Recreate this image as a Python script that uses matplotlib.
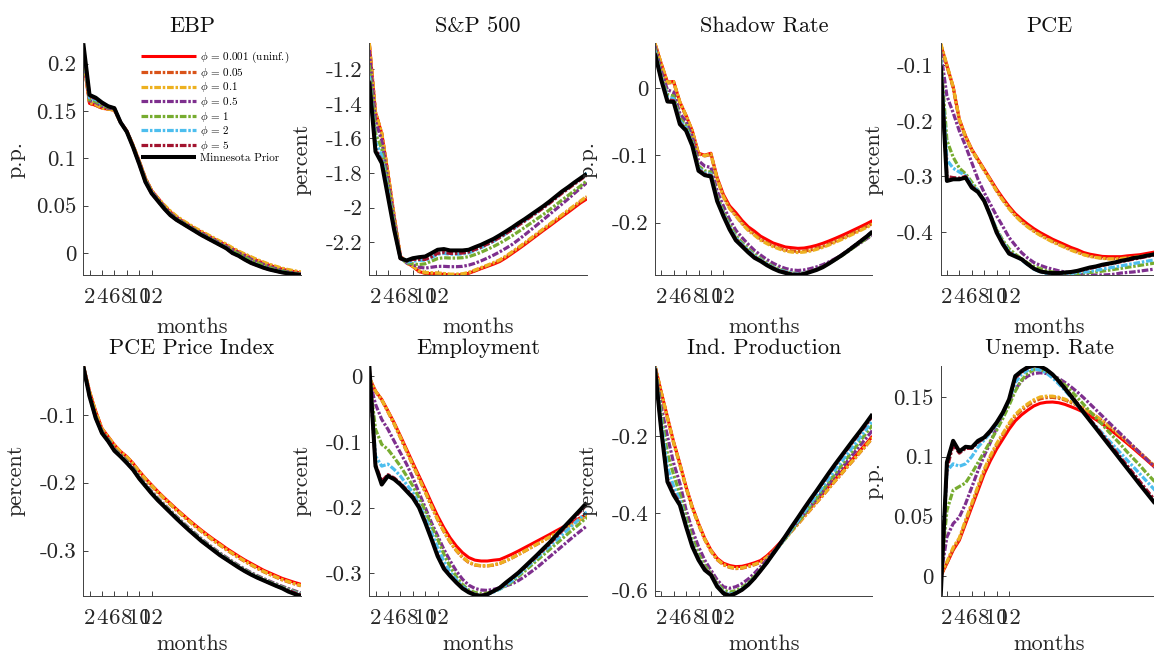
import matplotlib
matplotlib.use('Agg')
import matplotlib.pyplot as plt
import numpy as np

# ---------------- data ----------------
months = np.arange(1, 37)
xtick_vals = [2, 4, 6, 8, 10, 12]

titles = ['EBP', 'S&P 500', 'Shadow Rate', 'PCE',
          'PCE Price Index', 'Employment', 'Ind. Production', 'Unemp. Rate']
ylabels = ['p.p.', 'percent', 'p.p.', 'percent',
           'percent', 'percent', 'percent', 'p.p.']

series_labels = [r'$\phi$ = 0.001 (uninf.)', r'$\phi$ = 0.05', r'$\phi$ = 0.1',
                 r'$\phi$ = 0.5', r'$\phi$ = 1', r'$\phi$ = 2', r'$\phi$ = 5',
                 'Minnesota Prior']

yticks = [[0, 0.05, 0.1, 0.15, 0.2],
          [-2.2, -2.0, -1.8, -1.6, -1.4, -1.2],
          [-0.2, -0.1, 0.0],
          [-0.4, -0.3, -0.2, -0.1],
          [-0.3, -0.2, -0.1],
          [-0.3, -0.2, -0.1, 0.0],
          [-0.6, -0.4, -0.2],
          [0, 0.05, 0.1, 0.15]]
ytick_labels = [['0', '0.05', '0.1', '0.15', '0.2'],
                ['-2.2', '-2', '-1.8', '-1.6', '-1.4', '-1.2'],
                ['-0.2', '-0.1', '0'],
                ['-0.4', '-0.3', '-0.2', '-0.1'],
                ['-0.3', '-0.2', '-0.1'],
                ['-0.3', '-0.2', '-0.1', '0'],
                ['-0.6', '-0.4', '-0.2'],
                ['0', '0.05', '0.1', '0.15']]

# EBP
ebp_p001 = [0.205,0.158,0.156,0.153,0.152,0.151,0.138,0.129,0.114,0.097,0.079,0.066,0.058,0.050,0.0435,0.038,0.0335,0.0295,0.0255,0.022,0.0185,0.015,0.0115,0.0085,0.0045,0.001,-0.002,-0.005,-0.008,-0.0105,-0.013,-0.015,-0.017,-0.0185,-0.0198,-0.021]
ebp_p005 = [0.206,0.158,0.156,0.153,0.152,0.151,0.138,0.129,0.114,0.097,0.079,0.066,0.058,0.0505,0.044,0.0385,0.034,0.030,0.026,0.0225,0.019,0.0155,0.012,0.009,0.005,0.0015,-0.0015,-0.0045,-0.0075,-0.010,-0.0125,-0.0145,-0.0165,-0.018,-0.0193,-0.0205]
ebp_p01 = [0.207,0.159,0.157,0.153,0.152,0.151,0.138,0.129,0.114,0.097,0.079,0.066,0.058,0.051,0.0445,0.039,0.0345,0.0305,0.0265,0.023,0.0195,0.016,0.0125,0.0095,0.0055,0.002,-0.001,-0.004,-0.007,-0.0095,-0.012,-0.014,-0.016,-0.0175,-0.0188,-0.020]
ebp_p05 = [0.210,0.161,0.159,0.155,0.153,0.152,0.138,0.129,0.113,0.096,0.078,0.065,0.057,0.049,0.042,0.037,0.0325,0.0285,0.0245,0.021,0.0175,0.014,0.0105,0.007,0.0035,0.0,-0.003,-0.0065,-0.0095,-0.012,-0.0145,-0.0165,-0.0185,-0.020,-0.021,-0.022]
ebp_p1 = [0.212,0.162,0.160,0.156,0.154,0.152,0.138,0.128,0.113,0.095,0.077,0.064,0.056,0.048,0.041,0.036,0.032,0.028,0.024,0.020,0.0165,0.013,0.0095,0.006,0.002,-0.001,-0.0045,-0.008,-0.0105,-0.013,-0.0155,-0.0175,-0.019,-0.0205,-0.0215,-0.0225]
ebp_p2 = [0.215,0.164,0.162,0.157,0.155,0.153,0.138,0.128,0.112,0.095,0.076,0.064,0.0555,0.0475,0.0405,0.0355,0.0315,0.0275,0.0235,0.0195,0.016,0.0125,0.009,0.0055,0.0005,-0.0025,-0.0065,-0.010,-0.0125,-0.015,-0.017,-0.0185,-0.020,-0.021,-0.022,-0.0228]
ebp_p5 = [0.219,0.166,0.163,0.158,0.155,0.153,0.138,0.128,0.112,0.094,0.075,0.063,0.055,0.047,0.040,0.035,0.031,0.027,0.023,0.019,0.0155,0.012,0.0085,0.005,0.0,-0.003,-0.007,-0.0105,-0.013,-0.0155,-0.0175,-0.019,-0.0205,-0.0215,-0.0223,-0.023]
ebp_mn = [0.2215,0.167,0.164,0.159,0.155,0.153,0.138,0.128,0.112,0.094,0.075,0.063,0.055,0.047,0.040,0.035,0.031,0.027,0.023,0.019,0.0155,0.012,0.0085,0.005,0.0,-0.003,-0.007,-0.0105,-0.013,-0.0155,-0.0175,-0.019,-0.0205,-0.0215,-0.0223,-0.0232]

# S&P 500
sp_p001 = [-1.05,-1.45,-1.57,-1.80,-2.05,-2.28,-2.32,-2.34,-2.37,-2.38,-2.382,-2.383,-2.386,-2.39,-2.39,-2.388,-2.38,-2.367,-2.353,-2.34,-2.327,-2.312,-2.29,-2.265,-2.24,-2.214,-2.187,-2.16,-2.133,-2.107,-2.08,-2.053,-2.027,-2.0,-1.973,-1.95]
sp_p005 = [-1.05,-1.45,-1.57,-1.80,-2.05,-2.28,-2.32,-2.34,-2.37,-2.38,-2.38,-2.381,-2.384,-2.388,-2.388,-2.386,-2.378,-2.364,-2.35,-2.336,-2.322,-2.306,-2.284,-2.259,-2.234,-2.208,-2.181,-2.154,-2.127,-2.1,-2.073,-2.046,-2.019,-1.992,-1.965,-1.94]
sp_p01 = [-1.05,-1.45,-1.57,-1.80,-2.05,-2.28,-2.32,-2.338,-2.365,-2.375,-2.377,-2.378,-2.381,-2.385,-2.385,-2.383,-2.375,-2.361,-2.347,-2.333,-2.318,-2.302,-2.28,-2.255,-2.23,-2.204,-2.177,-2.15,-2.123,-2.096,-2.069,-2.042,-2.015,-1.988,-1.961,-1.935]
sp_p05 = [-1.09,-1.50,-1.61,-1.84,-2.07,-2.285,-2.32,-2.33,-2.345,-2.35,-2.345,-2.34,-2.34,-2.342,-2.342,-2.34,-2.333,-2.322,-2.308,-2.292,-2.275,-2.256,-2.235,-2.213,-2.186,-2.158,-2.129,-2.1,-2.07,-2.04,-2.01,-1.98,-1.95,-1.918,-1.887,-1.856]
sp_p1 = [-1.175,-1.57,-1.66,-1.87,-2.09,-2.29,-2.32,-2.325,-2.33,-2.325,-2.31,-2.295,-2.29,-2.292,-2.292,-2.29,-2.284,-2.272,-2.258,-2.242,-2.225,-2.206,-2.185,-2.163,-2.139,-2.115,-2.09,-2.065,-2.04,-2.013,-1.985,-1.957,-1.93,-1.902,-1.875,-1.845]
sp_p2 = [-1.24,-1.62,-1.70,-1.90,-2.11,-2.295,-2.315,-2.31,-2.305,-2.305,-2.29,-2.27,-2.265,-2.27,-2.27,-2.268,-2.262,-2.248,-2.232,-2.214,-2.195,-2.174,-2.151,-2.127,-2.101,-2.076,-2.050,-2.024,-1.998,-1.970,-1.941,-1.912,-1.885,-1.857,-1.83,-1.80]
sp_p5 = [-1.265,-1.66,-1.73,-1.92,-2.12,-2.295,-2.31,-2.30,-2.30,-2.30,-2.285,-2.265,-2.26,-2.265,-2.265,-2.263,-2.257,-2.243,-2.228,-2.211,-2.193,-2.172,-2.15,-2.127,-2.102,-2.078,-2.053,-2.028,-2.002,-1.975,-1.946,-1.917,-1.891,-1.864,-1.838,-1.812]
sp_mn = [-1.271,-1.676,-1.743,-1.936,-2.129,-2.293,-2.306,-2.293,-2.287,-2.283,-2.264,-2.244,-2.240,-2.248,-2.248,-2.248,-2.244,-2.229,-2.215,-2.198,-2.181,-2.160,-2.138,-2.115,-2.090,-2.067,-2.042,-2.017,-1.992,-1.965,-1.936,-1.907,-1.882,-1.855,-1.830,-1.805]

# Shadow Rate
sr_p001 = [0.0655,0.036,0.0084,0.0094,-0.021,-0.041,-0.0635,-0.097,-0.0998,-0.097,-0.133,-0.158,-0.175,-0.185,-0.1965,-0.206,-0.2125,-0.22,-0.225,-0.23,-0.233,-0.236,-0.237,-0.238,-0.2375,-0.2358,-0.2335,-0.2305,-0.227,-0.2232,-0.2192,-0.215,-0.2106,-0.2062,-0.2017,-0.197]
sr_p005 = [0.065,0.035,0.007,0.008,-0.022,-0.042,-0.065,-0.098,-0.101,-0.099,-0.135,-0.161,-0.178,-0.189,-0.2005,-0.21,-0.217,-0.2245,-0.2295,-0.234,-0.2375,-0.2405,-0.2418,-0.2425,-0.242,-0.2405,-0.238,-0.235,-0.2315,-0.2275,-0.2235,-0.2192,-0.2148,-0.2103,-0.2058,-0.201]
sr_p01 = [0.066,0.036,0.008,0.009,-0.021,-0.041,-0.064,-0.098,-0.1005,-0.098,-0.135,-0.161,-0.179,-0.19,-0.2015,-0.2115,-0.2185,-0.226,-0.231,-0.2355,-0.239,-0.242,-0.2435,-0.2442,-0.2435,-0.242,-0.2395,-0.2365,-0.233,-0.229,-0.225,-0.2207,-0.2163,-0.2118,-0.2072,-0.2025]
sr_p05 = [0.062,0.025,-0.003,-0.0065,-0.038,-0.05,-0.072,-0.108,-0.116,-0.118,-0.153,-0.175,-0.195,-0.211,-0.222,-0.232,-0.241,-0.248,-0.2545,-0.26,-0.2645,-0.2678,-0.27,-0.2708,-0.27,-0.268,-0.2655,-0.2622,-0.258,-0.2532,-0.248,-0.2422,-0.2362,-0.2302,-0.2242,-0.218]
sr_p1 = [0.058,0.018,-0.01,-0.012,-0.045,-0.056,-0.079,-0.116,-0.123,-0.125,-0.161,-0.183,-0.203,-0.219,-0.2295,-0.2385,-0.247,-0.2535,-0.2595,-0.2648,-0.269,-0.2718,-0.2745,-0.2755,-0.2745,-0.272,-0.269,-0.2652,-0.2602,-0.255,-0.2492,-0.243,-0.2365,-0.23,-0.2235,-0.217]
sr_p2 = [0.055,0.016,-0.014,-0.016,-0.049,-0.059,-0.082,-0.119,-0.126,-0.128,-0.164,-0.186,-0.206,-0.222,-0.232,-0.241,-0.249,-0.255,-0.261,-0.266,-0.27,-0.2725,-0.275,-0.2758,-0.2745,-0.2718,-0.2688,-0.2648,-0.2595,-0.254,-0.248,-0.2415,-0.2348,-0.2282,-0.2215,-0.2148]
sr_p5 = [0.052,0.013,-0.018,-0.019,-0.052,-0.062,-0.084,-0.121,-0.128,-0.13,-0.166,-0.188,-0.208,-0.224,-0.2335,-0.2425,-0.2505,-0.256,-0.262,-0.267,-0.271,-0.2735,-0.276,-0.2765,-0.275,-0.272,-0.269,-0.265,-0.2595,-0.2538,-0.2478,-0.2413,-0.2345,-0.2275,-0.2205,-0.2135]
sr_mn = [0.0506,0.012,-0.0203,-0.021,-0.054,-0.0635,-0.086,-0.123,-0.1295,-0.1315,-0.168,-0.190,-0.210,-0.226,-0.235,-0.244,-0.252,-0.257,-0.263,-0.268,-0.272,-0.2745,-0.277,-0.2775,-0.276,-0.273,-0.270,-0.266,-0.2605,-0.2546,-0.2486,-0.242,-0.235,-0.228,-0.221,-0.213]

# PCE
pce_p001 = [-0.062,-0.100,-0.138,-0.197,-0.227,-0.251,-0.269,-0.287,-0.305,-0.323,-0.339,-0.354,-0.367,-0.377,-0.386,-0.394,-0.401,-0.407,-0.413,-0.418,-0.423,-0.428,-0.432,-0.437,-0.440,-0.442,-0.444,-0.4445,-0.4445,-0.4445,-0.443,-0.442,-0.441,-0.439,-0.437,-0.435]
pce_p005 = [-0.062,-0.101,-0.140,-0.199,-0.229,-0.253,-0.271,-0.289,-0.307,-0.326,-0.342,-0.357,-0.370,-0.381,-0.390,-0.398,-0.405,-0.411,-0.417,-0.422,-0.427,-0.432,-0.436,-0.4405,-0.4435,-0.4455,-0.447,-0.448,-0.448,-0.4475,-0.4465,-0.4455,-0.444,-0.4425,-0.4405,-0.4385]
pce_p01 = [-0.060,-0.099,-0.138,-0.197,-0.228,-0.252,-0.270,-0.289,-0.307,-0.326,-0.343,-0.358,-0.371,-0.382,-0.391,-0.399,-0.406,-0.412,-0.418,-0.423,-0.428,-0.433,-0.437,-0.441,-0.444,-0.446,-0.4475,-0.4485,-0.4485,-0.448,-0.447,-0.446,-0.4445,-0.443,-0.441,-0.439]
pce_p05 = [-0.075,-0.155,-0.185,-0.218,-0.245,-0.275,-0.305,-0.329,-0.35,-0.371,-0.39,-0.41,-0.424,-0.437,-0.447,-0.455,-0.46,-0.464,-0.467,-0.47,-0.472,-0.474,-0.4755,-0.477,-0.4775,-0.4775,-0.4775,-0.477,-0.476,-0.474,-0.473,-0.472,-0.4705,-0.469,-0.4675,-0.466]
pce_p1 = [-0.085,-0.235,-0.265,-0.285,-0.295,-0.31,-0.325,-0.345,-0.37,-0.395,-0.415,-0.43,-0.44,-0.448,-0.456,-0.462,-0.466,-0.47,-0.472,-0.474,-0.4745,-0.475,-0.4748,-0.474,-0.473,-0.472,-0.4705,-0.469,-0.4672,-0.4655,-0.4638,-0.462,-0.4602,-0.4585,-0.4568,-0.455]
pce_p2 = [-0.09,-0.27,-0.285,-0.292,-0.298,-0.315,-0.326,-0.342,-0.368,-0.397,-0.418,-0.435,-0.443,-0.45,-0.459,-0.467,-0.472,-0.475,-0.476,-0.476,-0.4755,-0.4745,-0.473,-0.4725,-0.471,-0.469,-0.467,-0.465,-0.463,-0.461,-0.459,-0.457,-0.455,-0.453,-0.451,-0.449]
pce_p5 = [-0.098,-0.300,-0.302,-0.303,-0.300,-0.318,-0.327,-0.343,-0.37,-0.399,-0.42,-0.437,-0.443,-0.449,-0.458,-0.466,-0.471,-0.4735,-0.4745,-0.4745,-0.4735,-0.4725,-0.4705,-0.468,-0.4655,-0.463,-0.4605,-0.458,-0.4558,-0.4535,-0.4512,-0.449,-0.4468,-0.4446,-0.4424,-0.44]
pce_mn = [-0.100,-0.308,-0.305,-0.305,-0.302,-0.320,-0.328,-0.344,-0.371,-0.401,-0.422,-0.439,-0.444,-0.449,-0.458,-0.466,-0.471,-0.473,-0.474,-0.474,-0.473,-0.472,-0.470,-0.467,-0.464,-0.462,-0.459,-0.457,-0.455,-0.452,-0.450,-0.447,-0.4455,-0.443,-0.441,-0.4385]

# PCE Price Index
pcep_p001 = [-0.0276,-0.0655,-0.095,-0.12,-0.132,-0.1443,-0.154,-0.1616,-0.1714,-0.183,-0.1936,-0.2034,-0.213,-0.222,-0.2305,-0.239,-0.247,-0.255,-0.2626,-0.27,-0.277,-0.2837,-0.290,-0.2966,-0.3025,-0.3084,-0.314,-0.319,-0.324,-0.329,-0.333,-0.337,-0.341,-0.344,-0.347,-0.3497]
pcep_p005 = [-0.0276,-0.066,-0.096,-0.121,-0.133,-0.145,-0.155,-0.1625,-0.1725,-0.1842,-0.195,-0.2048,-0.2145,-0.2236,-0.2322,-0.2407,-0.2488,-0.2568,-0.2645,-0.272,-0.279,-0.2858,-0.2922,-0.2987,-0.3047,-0.3106,-0.3162,-0.3213,-0.3263,-0.3312,-0.3353,-0.3393,-0.3432,-0.3463,-0.3493,-0.352]
pcep_p01 = [-0.0274,-0.0655,-0.0955,-0.1205,-0.1325,-0.1447,-0.1545,-0.162,-0.172,-0.1837,-0.1945,-0.2043,-0.214,-0.2231,-0.2317,-0.2402,-0.2483,-0.2563,-0.264,-0.2715,-0.2785,-0.2853,-0.2917,-0.2982,-0.3042,-0.3101,-0.3157,-0.3208,-0.3258,-0.3307,-0.3348,-0.3388,-0.3427,-0.3458,-0.3488,-0.3515]
pcep_p05 = [-0.028,-0.071,-0.102,-0.124,-0.136,-0.150,-0.159,-0.168,-0.178,-0.191,-0.202,-0.213,-0.223,-0.232,-0.241,-0.250,-0.2585,-0.2668,-0.2748,-0.2828,-0.29,-0.297,-0.3038,-0.31,-0.316,-0.322,-0.3275,-0.3325,-0.337,-0.3412,-0.3452,-0.349,-0.3527,-0.356,-0.3593,-0.3625]
pcep_p1 = [-0.0282,-0.0715,-0.103,-0.125,-0.137,-0.151,-0.16,-0.169,-0.179,-0.192,-0.203,-0.214,-0.224,-0.233,-0.242,-0.251,-0.2595,-0.2678,-0.2758,-0.2838,-0.291,-0.298,-0.3048,-0.311,-0.317,-0.323,-0.3285,-0.3335,-0.338,-0.3422,-0.3462,-0.35,-0.3537,-0.357,-0.3603,-0.3635]
pcep_p2 = [-0.0284,-0.072,-0.104,-0.126,-0.138,-0.152,-0.161,-0.170,-0.180,-0.193,-0.204,-0.215,-0.225,-0.234,-0.243,-0.252,-0.2605,-0.2688,-0.2768,-0.2848,-0.292,-0.299,-0.3058,-0.312,-0.318,-0.324,-0.3295,-0.3345,-0.339,-0.3432,-0.3472,-0.351,-0.3547,-0.358,-0.3613,-0.3645]
pcep_p5 = [-0.0286,-0.0727,-0.1048,-0.1268,-0.1388,-0.1528,-0.1614,-0.1708,-0.1808,-0.1938,-0.2048,-0.2158,-0.2258,-0.2348,-0.2438,-0.2528,-0.2614,-0.2698,-0.2778,-0.2858,-0.2928,-0.2998,-0.3068,-0.3128,-0.3188,-0.3248,-0.3302,-0.3352,-0.3398,-0.3438,-0.3478,-0.3518,-0.3555,-0.3588,-0.3622,-0.3655]
pcep_mn = [-0.0286,-0.0729,-0.105,-0.127,-0.139,-0.153,-0.1616,-0.171,-0.181,-0.194,-0.205,-0.216,-0.226,-0.235,-0.244,-0.253,-0.2616,-0.270,-0.278,-0.286,-0.293,-0.300,-0.307,-0.313,-0.319,-0.325,-0.3305,-0.3355,-0.340,-0.344,-0.348,-0.352,-0.3557,-0.3605,-0.364,-0.367]

# Employment
emp_p001 = [-0.003,-0.0228,-0.0355,-0.053,-0.071,-0.091,-0.1115,-0.132,-0.152,-0.172,-0.193,-0.213,-0.2306,-0.246,-0.2585,-0.2686,-0.276,-0.280,-0.2813,-0.2813,-0.280,-0.279,-0.275,-0.2707,-0.266,-0.261,-0.256,-0.251,-0.246,-0.241,-0.2357,-0.2306,-0.2255,-0.2205,-0.2154,-0.2103]
emp_p005 = [-0.003,-0.0235,-0.0365,-0.0545,-0.073,-0.0935,-0.1145,-0.1355,-0.156,-0.1765,-0.198,-0.2185,-0.2365,-0.2525,-0.2655,-0.276,-0.2835,-0.2875,-0.2888,-0.2888,-0.2875,-0.285,-0.281,-0.2765,-0.2715,-0.2663,-0.261,-0.2557,-0.2503,-0.245,-0.2396,-0.2342,-0.2288,-0.2235,-0.2181,-0.2128]
emp_p01 = [-0.002,-0.023,-0.036,-0.054,-0.0725,-0.093,-0.114,-0.135,-0.1555,-0.176,-0.1975,-0.218,-0.236,-0.252,-0.265,-0.2755,-0.283,-0.287,-0.2885,-0.2885,-0.2872,-0.2848,-0.2808,-0.2763,-0.2713,-0.2661,-0.2608,-0.2555,-0.2501,-0.2448,-0.2394,-0.234,-0.2286,-0.2233,-0.2179,-0.2126]
emp_p05 = [-0.005,-0.043,-0.066,-0.081,-0.099,-0.1166,-0.134,-0.1546,-0.1774,-0.200,-0.223,-0.243,-0.2635,-0.281,-0.2965,-0.309,-0.318,-0.323,-0.3254,-0.326,-0.3244,-0.322,-0.319,-0.316,-0.311,-0.305,-0.298,-0.291,-0.283,-0.275,-0.267,-0.259,-0.251,-0.243,-0.2355,-0.228]
emp_p1 = [-0.002,-0.081,-0.104,-0.1115,-0.124,-0.137,-0.152,-0.167,-0.185,-0.205,-0.228,-0.248,-0.271,-0.29,-0.305,-0.317,-0.3254,-0.329,-0.331,-0.33,-0.3275,-0.324,-0.319,-0.313,-0.3048,-0.2967,-0.2885,-0.2803,-0.2722,-0.264,-0.2558,-0.2477,-0.2395,-0.2313,-0.2232,-0.215]
emp_p2 = [0.0,-0.1216,-0.137,-0.134,-0.142,-0.152,-0.165,-0.177,-0.195,-0.2154,-0.238,-0.261,-0.282,-0.298,-0.31,-0.32,-0.327,-0.332,-0.333,-0.332,-0.3285,-0.324,-0.318,-0.311,-0.3023,-0.2936,-0.285,-0.2763,-0.2676,-0.259,-0.2503,-0.2416,-0.2329,-0.2242,-0.2155,-0.2068]
emp_p5 = [0.012,-0.135,-0.16,-0.15,-0.155,-0.163,-0.173,-0.183,-0.198,-0.221,-0.246,-0.272,-0.291,-0.303,-0.313,-0.322,-0.328,-0.332,-0.3335,-0.3315,-0.327,-0.3215,-0.3145,-0.307,-0.2995,-0.291,-0.2825,-0.2735,-0.2645,-0.2555,-0.2455,-0.2355,-0.2255,-0.2155,-0.2055,-0.1955]
emp_mn = [0.016,-0.137,-0.165,-0.152,-0.157,-0.165,-0.175,-0.185,-0.200,-0.223,-0.248,-0.274,-0.293,-0.304,-0.314,-0.323,-0.329,-0.333,-0.3345,-0.332,-0.327,-0.322,-0.314,-0.3066,-0.299,-0.290,-0.281,-0.272,-0.2625,-0.2534,-0.243,-0.233,-0.223,-0.213,-0.203,-0.1926]

# Industrial Production
ip_p001 = [-0.018,-0.0853,-0.15,-0.2147,-0.2707,-0.331,-0.3828,-0.4259,-0.4647,-0.4948,-0.5164,-0.529,-0.535,-0.538,-0.537,-0.533,-0.528,-0.522,-0.51,-0.495,-0.478,-0.46,-0.441,-0.423,-0.404,-0.386,-0.367,-0.349,-0.33,-0.311,-0.293,-0.274,-0.256,-0.237,-0.219,-0.200]
ip_p005 = [-0.018,-0.087,-0.153,-0.218,-0.274,-0.334,-0.386,-0.429,-0.468,-0.498,-0.52,-0.533,-0.54,-0.543,-0.542,-0.538,-0.533,-0.527,-0.515,-0.5,-0.483,-0.465,-0.446,-0.428,-0.409,-0.391,-0.372,-0.354,-0.335,-0.316,-0.298,-0.279,-0.261,-0.242,-0.224,-0.205]
ip_p01 = [-0.017,-0.086,-0.152,-0.217,-0.273,-0.333,-0.385,-0.428,-0.467,-0.497,-0.519,-0.532,-0.539,-0.542,-0.541,-0.537,-0.532,-0.526,-0.514,-0.499,-0.482,-0.464,-0.445,-0.427,-0.408,-0.39,-0.371,-0.353,-0.334,-0.315,-0.297,-0.278,-0.26,-0.241,-0.223,-0.204]
ip_p05 = [-0.02,-0.124,-0.2,-0.27,-0.322,-0.391,-0.443,-0.486,-0.521,-0.547,-0.572,-0.59,-0.594,-0.59,-0.582,-0.57,-0.555,-0.538,-0.52,-0.501,-0.481,-0.461,-0.442,-0.422,-0.402,-0.382,-0.363,-0.343,-0.323,-0.303,-0.284,-0.264,-0.244,-0.224,-0.205,-0.185]
ip_p1 = [-0.021,-0.14,-0.245,-0.30,-0.35,-0.41,-0.465,-0.505,-0.535,-0.555,-0.58,-0.598,-0.604,-0.6,-0.592,-0.58,-0.563,-0.545,-0.525,-0.505,-0.485,-0.465,-0.444,-0.423,-0.402,-0.381,-0.36,-0.339,-0.318,-0.297,-0.276,-0.255,-0.234,-0.213,-0.192,-0.171]
ip_p2 = [-0.022,-0.16,-0.28,-0.33,-0.365,-0.425,-0.478,-0.515,-0.542,-0.557,-0.585,-0.603,-0.61,-0.605,-0.596,-0.583,-0.566,-0.547,-0.527,-0.506,-0.485,-0.463,-0.441,-0.419,-0.397,-0.375,-0.353,-0.331,-0.309,-0.287,-0.266,-0.245,-0.224,-0.203,-0.182,-0.16]
ip_p5 = [-0.024,-0.18,-0.31,-0.347,-0.374,-0.43,-0.482,-0.517,-0.543,-0.557,-0.587,-0.605,-0.6125,-0.6065,-0.5975,-0.5845,-0.5678,-0.5482,-0.5278,-0.5055,-0.4828,-0.4595,-0.4358,-0.4125,-0.389,-0.3658,-0.3435,-0.3205,-0.2975,-0.2752,-0.2538,-0.2325,-0.2112,-0.1905,-0.1695,-0.148]
ip_mn = [-0.025,-0.1845,-0.318,-0.3526,-0.3785,-0.4345,-0.486,-0.5207,-0.5466,-0.5595,-0.5897,-0.607,-0.614,-0.607,-0.598,-0.585,-0.568,-0.548,-0.5276,-0.505,-0.482,-0.4586,-0.4345,-0.411,-0.387,-0.3638,-0.3414,-0.318,-0.2948,-0.2724,-0.2509,-0.2293,-0.2078,-0.187,-0.1655,-0.143]

# Unemployment Rate
ur_p001 = [0.0,0.0106,0.0217,0.03,0.0439,0.0578,0.0717,0.0856,0.0967,0.1064,0.1147,0.123,0.13,0.135,0.139,0.1425,0.1447,0.1456,0.1458,0.1452,0.1438,0.1418,0.1397,0.1372,0.1343,0.131,0.1275,0.1237,0.1197,0.1155,0.1112,0.1068,0.1023,0.0978,0.0932,0.0886]
ur_p005 = [0.0,0.011,0.0225,0.031,0.0455,0.0595,0.074,0.088,0.0995,0.1095,0.118,0.1265,0.1338,0.1388,0.1428,0.1462,0.1485,0.1495,0.1497,0.149,0.1475,0.1453,0.143,0.1403,0.1372,0.1337,0.13,0.126,0.1218,0.1174,0.1129,0.1083,0.1036,0.0989,0.0941,0.0893]
ur_p01 = [0.001,0.012,0.024,0.032,0.047,0.061,0.0755,0.0895,0.101,0.111,0.1195,0.128,0.1353,0.1403,0.1443,0.1477,0.15,0.1507,0.1507,0.1498,0.1482,0.1459,0.1435,0.1407,0.1375,0.134,0.1302,0.1262,0.122,0.1176,0.113,0.1084,0.1037,0.099,0.0942,0.0894]
ur_p05 = [0.0,0.0328,0.0439,0.0494,0.0606,0.0744,0.0883,0.1008,0.112,0.1244,0.1356,0.1467,0.1564,0.1633,0.1675,0.1697,0.1703,0.1697,0.168,0.1655,0.1622,0.1584,0.1541,0.1494,0.1443,0.1392,0.1341,0.129,0.1239,0.1189,0.1138,0.1087,0.1036,0.0986,0.0935,0.0884]
ur_p1 = [0.0,0.055,0.072,0.075,0.078,0.086,0.095,0.104,0.113,0.122,0.132,0.143,0.155,0.164,0.17,0.1728,0.173,0.1715,0.1685,0.1645,0.16,0.155,0.1495,0.1438,0.138,0.1325,0.127,0.121,0.1155,0.11,0.104,0.0985,0.093,0.087,0.0815,0.076]
ur_p2 = [-0.005,0.088,0.094,0.092,0.094,0.1,0.108,0.114,0.12,0.127,0.136,0.147,0.162,0.169,0.1725,0.1735,0.1727,0.170,0.166,0.161,0.1555,0.1495,0.143,0.1365,0.131,0.1253,0.1197,0.114,0.1084,0.1028,0.0972,0.0915,0.0859,0.0802,0.0746,0.069]
ur_p5 = [-0.012,0.09,0.11,0.103,0.107,0.107,0.112,0.1155,0.121,0.128,0.1365,0.1475,0.166,0.171,0.1745,0.176,0.1755,0.1728,0.1688,0.1635,0.1575,0.1512,0.1447,0.138,0.1315,0.125,0.1185,0.112,0.1055,0.099,0.0925,0.086,0.0795,0.073,0.0665,0.06]
ur_mn = [-0.0167,0.0953,0.1133,0.1044,0.1083,0.1078,0.1133,0.1161,0.1217,0.1286,0.137,0.148,0.1675,0.1717,0.175,0.1764,0.1758,0.173,0.1689,0.1633,0.157,0.1505,0.1438,0.137,0.1303,0.1237,0.117,0.1103,0.1037,0.097,0.0903,0.0837,0.077,0.0705,0.064,0.0575]

panels = [
    [ebp_p001, ebp_p005, ebp_p01, ebp_p05, ebp_p1, ebp_p2, ebp_p5, ebp_mn],
    [sp_p001, sp_p005, sp_p01, sp_p05, sp_p1, sp_p2, sp_p5, sp_mn],
    [sr_p001, sr_p005, sr_p01, sr_p05, sr_p1, sr_p2, sr_p5, sr_mn],
    [pce_p001, pce_p005, pce_p01, pce_p05, pce_p1, pce_p2, pce_p5, pce_mn],
    [pcep_p001, pcep_p005, pcep_p01, pcep_p05, pcep_p1, pcep_p2, pcep_p5, pcep_mn],
    [emp_p001, emp_p005, emp_p01, emp_p05, emp_p1, emp_p2, emp_p5, emp_mn],
    [ip_p001, ip_p005, ip_p01, ip_p05, ip_p1, ip_p2, ip_p5, ip_mn],
    [ur_p001, ur_p005, ur_p01, ur_p05, ur_p1, ur_p2, ur_p5, ur_mn],
]

# ---------------- style ----------------
plt.rcParams['font.family'] = ['cmr10', 'DejaVu Serif']
plt.rcParams['mathtext.fontset'] = 'cm'
plt.rcParams['axes.unicode_minus'] = False
plt.rcParams['lines.scale_dashes'] = False

colors = ['#FF0000', '#D95319', '#EDB120', '#7E2F8E', '#77AC30',
          '#4DBEEE', '#A2142F', '#000000']
dashdot = (0, (4.8, 1.3, 1.8, 1.3))
styles = ['-', dashdot, dashdot, dashdot, dashdot, dashdot, dashdot, '-']
widths = [2.2, 2.3, 2.3, 2.3, 2.3, 2.3, 2.3, 2.9]

W, H = 1154, 654
fig = plt.figure(figsize=(W / 100, H / 100), dpi=100)

col_left = [83.3, 369.3, 655.0, 940.7]
ax_w = 217.5
rows = [(43.3, 275.0), (365.5, 596.0)]
xlabel_y = [-0.185, -0.168]
axis_color = '#404040'

axes = []
for i in range(8):
    r, c = divmod(i, 4)
    top, bot = rows[r]
    ax = fig.add_axes([col_left[c] / W, 1 - bot / H, ax_w / W, (bot - top) / H])
    axes.append(ax)
    data = panels[i]
    for k in range(8):
        ax.plot(months, data[k], color=colors[k], linestyle=styles[k],
                linewidth=widths[k], label=series_labels[k],
                solid_capstyle='butt', dash_capstyle='butt')
    allv = np.concatenate([np.asarray(s) for s in data])
    ax.set_xlim(1, 36)
    ax.set_ylim(allv.min(), allv.max())
    ax.set_xticks(xtick_vals)
    ax.set_xticklabels([str(v) for v in xtick_vals])
    ax.set_yticks(yticks[i])
    ax.set_yticklabels(ytick_labels[i])
    for s in ['top', 'right']:
        ax.spines[s].set_visible(False)
    for s in ['left', 'bottom']:
        ax.spines[s].set_color(axis_color)
        ax.spines[s].set_linewidth(0.7)
    ax.tick_params(axis='both', direction='in', length=3.5, width=0.7,
                   color=axis_color, labelsize=16.5, labelcolor='#262626')
    ax.tick_params(axis='x', pad=9)
    ax.tick_params(axis='y', pad=5)
    ax.set_title(titles[i], fontsize=16, pad=8, color='#111111')
    ax.set_xlabel('months', fontsize=16, color='#262626')
    ax.set_ylabel(ylabels[i], fontsize=16, color='#262626')
    ax.xaxis.set_label_coords(0.5, xlabel_y[r])
    ax.yaxis.set_label_coords(-0.265, 0.5)
    ax.patch.set_alpha(0)

leg = axes[0].legend(loc='upper left', bbox_to_anchor=(141 / W, 1 - 50 / H),
                     bbox_transform=fig.transFigure, frameon=False,
                     fontsize=8, handlelength=4.95, handletextpad=0.4,
                     labelspacing=0.05, borderpad=0, borderaxespad=0)

fig.savefig('out.png', dpi=100)
